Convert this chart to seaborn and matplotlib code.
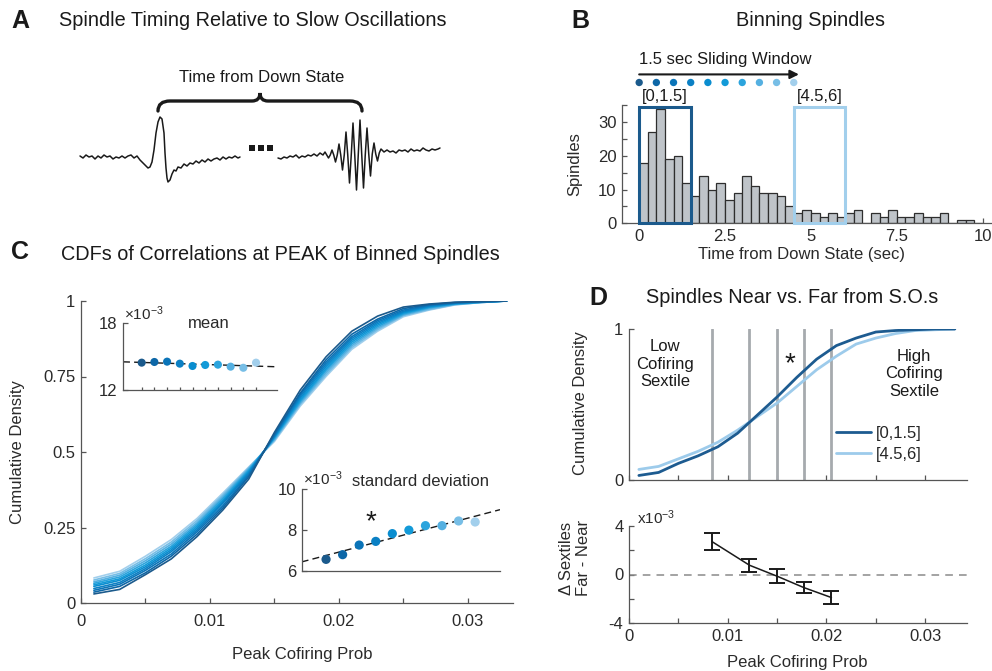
import numpy as np
import pandas as pd
import matplotlib
matplotlib.use("Agg")
import matplotlib.pyplot as plt
import seaborn as sns
from matplotlib.path import Path
from matplotlib.patches import PathPatch, Rectangle
from matplotlib.lines import Line2D

# ---------------- data ----------------
# Panel A : example traces (time, amplitude)
so_t = [80, 83, 86, 89, 92, 95, 98, 101, 104, 107, 110, 113, 116, 119, 122, 125, 128, 131, 134, 137, 140,
        143, 146, 148, 150, 152, 154, 156, 158, 160, 162, 164, 165, 166, 167, 168, 170, 172, 174, 176, 178,
        181, 184, 187, 190, 193, 196, 199, 202, 205, 208, 211, 214, 217, 220, 223, 226, 229, 232, 235, 238, 240]
so_v = [2, 0, 3, 1, 2, -1, 2, 0, 3, 1, 2, -1, 1, 0, 2, 0, 2, 3, 0, 2, -2,
        -5, -8, -10, -9, -4, 8, 25, 36, 41, 39, 25, 5, -10, -20, -24, -22, -16, -12, -13, -9,
        -10, -6, -8, -5, -6, -3, -5, -2, -4, -1, -3, -1, 0, -2, 1, -1, 1, 0, 2, 0, 1]
sp_t = [278, 281, 284, 287, 290, 293, 296, 299, 302, 305, 308, 311, 314, 317, 320, 323,
        325, 326.75, 328.5, 330.25, 332, 333.75, 335.5, 337.25, 339, 340.75, 342.5, 344.25, 346, 347.75,
        349.5, 351.25, 353, 354.75, 356.5, 358.25, 360, 361.75, 363.5, 365.25, 367, 368.75, 370.5, 372.25,
        374, 375.75, 377.5, 379.25, 381,
        384, 387, 390, 393, 396, 399, 402, 405, 408, 411, 414, 417, 420, 423, 426, 429, 432, 435, 438, 440]
sp_v = [0, -1, 1, 0, 2, 1, 3, 0, 2, 1, 3, 2, 4, 2, 5, 3,
        6, 3, 0, 3, 8, 3, -4, 3, 14, 3, -12, 3, 26, 3, -25, 3, 35, 3, -32, 3, 38, 3, -30, 3, 30, 4, -18, 4,
        15, 4, -3, 5, 9,
        6, 8, 6, 7, 5, 8, 7, 8, 6, 9, 7, 8, 7, 10, 8, 7, 9, 8, 9, 10]
ellipsis_x = [252, 261, 270]

# Panel B : spindle counts per 0.25 s bin, 0-10 s
bin_width = 0.25
spindle_counts = [18, 27, 34, 19, 20, 12, 8, 14, 10, 12, 7, 9, 14, 11, 9, 9, 8, 5, 3, 4,
                  3, 2, 3, 2, 3, 4, 0, 3, 2, 4, 2, 2, 3, 2, 2, 3, 0, 1, 1, 0]
window_starts = [0, 0.5, 1.0, 1.5, 2.0, 2.5, 3.0, 3.5, 4.0, 4.5]
window_len = 1.5
window_labels = ["[0,1.5]", "[0.5,2]", "[1,2.5]", "[1.5,3]", "[2,3.5]",
                 "[2.5,4]", "[3,4.5]", "[3.5,5]", "[4,5.5]", "[4.5,6]"]
window_colors = ["#1b5a8c", "#0d67a7", "#0b74b8", "#0b80c4", "#0a8dcf",
                 "#139ad8", "#2ca4dd", "#55b0e1", "#77bee6", "#a2cfec"]

# Panel C : CDFs per window
cofiring_x = [0.001, 0.003, 0.005, 0.007, 0.009, 0.011, 0.013, 0.015, 0.017,
              0.019, 0.021, 0.023, 0.025, 0.027, 0.029, 0.031, 0.033]
cdf_w1 = [0.030, 0.045, 0.094, 0.146, 0.220, 0.308, 0.410, 0.565, 0.705, 0.815, 0.900, 0.950, 0.980, 0.990, 0.996, 0.998, 1.0]
cdf_w2 = [0.036, 0.055, 0.100, 0.155, 0.228, 0.315, 0.418, 0.560, 0.695, 0.805, 0.890, 0.940, 0.975, 0.988, 0.995, 0.998, 1.0]
cdf_w3 = [0.042, 0.062, 0.108, 0.162, 0.236, 0.322, 0.423, 0.556, 0.690, 0.797, 0.882, 0.935, 0.970, 0.986, 0.994, 0.998, 1.0]
cdf_w4 = [0.048, 0.068, 0.114, 0.170, 0.242, 0.330, 0.428, 0.553, 0.684, 0.790, 0.876, 0.930, 0.966, 0.984, 0.993, 0.997, 1.0]
cdf_w5 = [0.055, 0.075, 0.120, 0.176, 0.248, 0.335, 0.432, 0.551, 0.678, 0.783, 0.870, 0.925, 0.963, 0.982, 0.992, 0.997, 1.0]
cdf_w6 = [0.060, 0.080, 0.126, 0.182, 0.254, 0.340, 0.436, 0.549, 0.672, 0.776, 0.864, 0.920, 0.960, 0.980, 0.991, 0.996, 1.0]
cdf_w7 = [0.065, 0.086, 0.133, 0.188, 0.260, 0.346, 0.440, 0.545, 0.667, 0.770, 0.858, 0.915, 0.957, 0.978, 0.990, 0.996, 1.0]
cdf_w8 = [0.070, 0.092, 0.140, 0.195, 0.266, 0.352, 0.444, 0.542, 0.662, 0.763, 0.852, 0.910, 0.954, 0.975, 0.989, 0.995, 1.0]
cdf_w9 = [0.076, 0.098, 0.147, 0.202, 0.273, 0.358, 0.447, 0.539, 0.658, 0.756, 0.846, 0.905, 0.952, 0.972, 0.988, 0.995, 1.0]
cdf_w10 = [0.083, 0.105, 0.155, 0.210, 0.280, 0.364, 0.450, 0.535, 0.652, 0.750, 0.840, 0.900, 0.948, 0.970, 0.987, 0.995, 1.0]
window_index = [1, 2, 3, 4, 5, 6, 7, 8, 9, 10]
window_mean = [14.46, 14.52, 14.55, 14.37, 14.16, 14.25, 14.28, 14.10, 14.00, 14.46]   # x1e-3
window_std = [6.57, 6.80, 7.27, 7.45, 7.83, 8.00, 8.22, 8.22, 8.45, 8.40]            # x1e-3

# Panel D
near_cdf = [0.030, 0.050, 0.110, 0.160, 0.220, 0.310, 0.430, 0.550, 0.680, 0.800, 0.890, 0.940, 0.980, 0.990, 0.995, 1.0, 1.0]
far_cdf = [0.070, 0.090, 0.140, 0.190, 0.250, 0.330, 0.420, 0.510, 0.620, 0.730, 0.820, 0.900, 0.940, 0.970, 0.990, 0.995, 1.0]
sextile_edges = [0.0084, 0.0122, 0.0150, 0.0177, 0.0205]
delta_far_near = [2.70, 0.76, -0.14, -1.07, -1.89]   # x1e-3
delta_err = [0.70, 0.55, 0.58, 0.45, 0.50]
near_color = "#1d5b90"
far_color = "#9dcbeb"

# ---------------- style ----------------
sns.set_theme(style="ticks")
plt.rcParams.update({
    "font.family": ["Liberation Sans", "DejaVu Sans"],
    "mathtext.fontset": "custom",
    "mathtext.rm": "Liberation Sans",
    "mathtext.it": "Liberation Sans:italic",
    "mathtext.default": "regular",
    "xtick.direction": "in", "ytick.direction": "in",
    "axes.edgecolor": "#555555", "axes.linewidth": 0.9,
    "xtick.color": "#555555", "ytick.color": "#555555",
    "xtick.labelcolor": "#2a2a2a", "ytick.labelcolor": "#2a2a2a",
    "xtick.major.size": 3.5, "ytick.major.size": 3.5,
    "xtick.major.width": 0.9, "ytick.major.width": 0.9,
    "xtick.labelsize": 12, "ytick.labelsize": 12,
    "xtick.major.pad": 4.3, "ytick.major.pad": 4,
})

W, H = 992, 671
fig = plt.figure(figsize=(W / 100, H / 100), dpi=100)


def rect(x0, y0, x1, y1):
    return [x0 / W, 1 - y1 / H, (x1 - x0) / W, (y1 - y0) / H]


def ftext(x, y, s, **kw):
    kw.setdefault("ha", "center")
    kw.setdefault("va", "center")
    kw.setdefault("color", "#1a1a1a")
    return fig.text(x / W, 1 - y / H, s, **kw)


TXT = "#2a2a2a"

# panel letters and titles
for lab, (x, y) in {"A": (20, 21), "B": (580, 21), "C": (20, 252), "D": (598, 298)}.items():
    ftext(x, y, lab, fontsize=18, fontweight="bold", color="k")
ftext(253, 21, "Spindle Timing Relative to Slow Oscillations", fontsize=14.3)
ftext(811, 21, "Binning Spindles", fontsize=14.3)
ftext(280, 254, "CDFs of Correlations at PEAK of Binned Spindles", fontsize=14.3)
ftext(792, 297, "Spindles Near vs. Far from S.O.s", fontsize=14.3)

# ---------------- Panel A ----------------
axA = fig.add_axes(rect(60, 60, 460, 200))
sns.lineplot(x=so_t, y=so_v, ax=axA, color="k", lw=1.1, estimator=None, sort=False)
sns.lineplot(x=sp_t, y=sp_v, ax=axA, color="k", lw=1.1, estimator=None, sort=False)
axA.scatter(ellipsis_x, [10] * len(ellipsis_x), marker="s", s=22, color="k", lw=0)
brace_v = [(158, 47), (158, 57), (170, 57), (252, 57), (260, 57), (260, 65),
           (260, 57), (268, 57), (350, 57), (362, 57), (362, 47)]
brace_c = [Path.MOVETO, Path.CURVE3, Path.CURVE3, Path.LINETO, Path.CURVE3, Path.CURVE3,
           Path.CURVE3, Path.CURVE3, Path.LINETO, Path.CURVE3, Path.CURVE3]
axA.add_patch(PathPatch(Path(brace_v, brace_c), fill=False, lw=2.4, ec="k", capstyle="round"))
axA.text(262, 80, "Time from Down State", ha="center", va="center", fontsize=12, color="#1a1a1a")
axA.set_xlim(60, 460)
axA.set_ylim(-42, 98)
axA.axis("off")

# ---------------- Panel B ----------------
axB = fig.add_axes(rect(622, 105.4, 993, 223.3))
centers = np.arange(len(spindle_counts)) * bin_width + bin_width / 2
dfB = pd.DataFrame({"t": centers, "n": spindle_counts})
sns.histplot(data=dfB, x="t", weights="n", binwidth=bin_width, binrange=(0, 10), ax=axB,
             color="#bfc4c9", edgecolor="#2e2e2e", linewidth=0.9, alpha=1)
axB.set_xlim(-0.5, 10.3)
axB.set_ylim(0, 35)
for start, col in [(window_starts[0], window_colors[0]), (window_starts[-1], window_colors[-1])]:
    axB.add_patch(Rectangle((start, 0), window_len, 34.6, fill=False, ec=col, lw=2.2, clip_on=False, zorder=5))
    axB.text(start + window_len / 2, 37.6, f"[{start:g},{start + window_len:g}]", ha="center", va="center",
             fontsize=12, color="#1a1a1a")
axB.annotate("", xy=(4.65, 44.2), xytext=(0, 44.2), annotation_clip=False,
             arrowprops=dict(arrowstyle="-|>", color="k", lw=1.5, mutation_scale=13, shrinkA=0, shrinkB=0))
axB.text(0, 48.5, "1.5 sec Sliding Window", ha="left", va="center", fontsize=12, color="#1a1a1a")
sns.scatterplot(x=window_starts, y=[41.8] * len(window_starts), hue=window_labels, palette=window_colors,
                ax=axB, s=28, legend=False, edgecolor="none", clip_on=False)
axB.set_xticks([0, 2.5, 5, 7.5, 10], ["0", "2.5", "5", "7.5", "10"])
axB.set_yticks([0, 5, 10, 15, 20, 25, 30, 35], ["0", "", "10", "", "20", "", "30", ""])
axB.set_xlabel("")
axB.set_ylabel("")
sns.despine(ax=axB)
ftext(575, 164, "Spindles", fontsize=12, rotation=90, color=TXT)
ftext(802, 255, "Time from Down State (sec)", fontsize=12, color=TXT)

# ---------------- Panel C ----------------
axC = fig.add_axes(rect(81, 301, 513, 603))
curves = [cdf_w1, cdf_w2, cdf_w3, cdf_w4, cdf_w5, cdf_w6, cdf_w7, cdf_w8, cdf_w9, cdf_w10]
dfC = pd.DataFrame({
    "x": np.tile(cofiring_x, len(curves)),
    "cdf": np.concatenate(curves),
    "window": np.repeat(window_labels, len(cofiring_x)),
})
sns.lineplot(data=dfC, x="x", y="cdf", hue="window", hue_order=window_labels[::-1],
             palette=dict(zip(window_labels, window_colors)), ax=axC, lw=1.2, legend=False)
axC.set_xlim(0, 0.0335)
axC.set_ylim(0, 1)
axC.set_xticks(np.arange(0, 0.0301, 0.005), ["0", "", "0.01", "", "0.02", "", "0.03"])
axC.set_yticks([0, 0.25, 0.5, 0.75, 1], ["0", "0.25", "0.5", "0.75", "1"])
axC.tick_params(axis="x", pad=7.7)
axC.set_xlabel("")
axC.set_ylabel("")
sns.despine(ax=axC)
ftext(18, 452, "Cumulative Density", fontsize=12, rotation=90, color=TXT)
ftext(302, 655, "Peak Cofiring Prob", fontsize=12, color=TXT)

# inset: mean
axM = fig.add_axes(rect(123, 323.3, 277, 390))
axM.set_xlim(-0.47, 11.65)
axM.set_ylim(12, 18)
sns.regplot(x=window_index, y=window_mean, ax=axM, scatter=False, ci=None, truncate=False, color="k",
            line_kws=dict(ls=(0, (5, 3)), lw=1.0))
sns.scatterplot(x=window_index, y=window_mean, hue=window_labels, palette=window_colors, ax=axM,
                s=34, legend=False, edgecolor="none", zorder=3)
axM.set_xlim(-0.47, 11.65)
axM.set_ylim(12, 18)
axM.set_xticks(window_index, [""] * 10)
axM.tick_params(axis="x", length=2.5)
axM.set_yticks([12, 18], ["12", "18"])
axM.set_xlabel("")
axM.set_ylabel("")
axM.patch.set_alpha(0)
sns.despine(ax=axM)
ftext(124, 314, r"$\times10^{-3}$", fontsize=11, ha="left", color=TXT)
ftext(209, 323, "mean", fontsize=12, color=TXT)

# inset: standard deviation
axS = fig.add_axes(rect(301.7, 489.3, 500, 571))
axS.set_xlim(-0.47, 11.5)
axS.set_ylim(6, 10)
sns.regplot(x=window_index, y=window_std, ax=axS, scatter=False, ci=None, truncate=False, color="k",
            line_kws=dict(ls=(0, (5, 3)), lw=1.0))
sns.scatterplot(x=window_index, y=window_std, hue=window_labels, palette=window_colors, ax=axS,
                s=44, legend=False, edgecolor="none", zorder=3)
axS.set_xlim(-0.47, 11.5)
axS.set_ylim(6, 10)
axS.set_xticks([])
axS.set_yticks([6, 8, 10], ["6", "8", "10"])
axS.set_xlabel("")
axS.set_ylabel("")
axS.patch.set_alpha(0)
sns.despine(ax=axS)
ftext(303, 479, r"$\times10^{-3}$", fontsize=11, ha="left", color=TXT)
ftext(421, 482, "standard deviation", fontsize=12, color=TXT)
ftext(371, 522, "*", fontsize=20, color="k")

# ---------------- Panel D top ----------------
axD1 = fig.add_axes(rect(629, 329, 966.7, 480))
for e in sextile_edges:
    axD1.axvline(e, color="#a6aaae", lw=2, zorder=1)
dfD = pd.DataFrame({
    "x": np.tile(cofiring_x, 2),
    "cdf": np.concatenate([near_cdf, far_cdf]),
    "group": np.repeat([window_labels[0], window_labels[-1]], len(cofiring_x)),
})
sns.lineplot(data=dfD, x="x", y="cdf", hue="group", hue_order=[window_labels[-1], window_labels[0]],
             palette={window_labels[0]: near_color, window_labels[-1]: far_color}, ax=axD1, lw=2,
             legend=False, zorder=3)
axD1.set_xlim(0, 0.0342)
axD1.set_ylim(0, 1)
axD1.set_xticks(np.arange(0, 0.0301, 0.005), [""] * 7)
axD1.set_yticks([0, 1], ["0", "1"])
axD1.set_xlabel("")
axD1.set_ylabel("")
sns.despine(ax=axD1)
handles = [Line2D([], [], color=near_color, lw=2), Line2D([], [], color=far_color, lw=2)]
axD1.legend(handles, [window_labels[0], window_labels[-1]], loc="upper left", frameon=False,
            bbox_to_anchor=(836 / W, 1 - 426 / H), bbox_transform=fig.transFigure, fontsize=12,
            handlelength=2.1, handletextpad=0.3, labelspacing=0.35, borderaxespad=0, borderpad=0)
ftext(665, 364, "Low\nCofiring\nSextile", fontsize=12, linespacing=1.2)
ftext(914, 374, "High\nCofiring\nSextile", fontsize=12, linespacing=1.2)
ftext(790, 364, "*", fontsize=20, color="k")
ftext(580, 403, "Cumulative Density", fontsize=12, rotation=90, color=TXT)

# ---------------- Panel D bottom ----------------
axD2 = fig.add_axes(rect(629, 525.7, 966.7, 623.3))
axD2.axhline(0, color="#8a8a8a", ls=(0, (5, 4)), lw=1.1, zorder=1)
sns.lineplot(x=sextile_edges, y=delta_far_near, ax=axD2, color="k", lw=1.1, estimator=None)
axD2.errorbar(sextile_edges, delta_far_near, yerr=delta_err, fmt="none", ecolor="k",
              elinewidth=1.4, capsize=6, capthick=1.4)
axD2.set_xlim(0, 0.0342)
axD2.set_ylim(-4, 4)
axD2.set_xticks(np.arange(0, 0.0301, 0.005), ["0", "", "0.01", "", "0.02", "", "0.03"])
axD2.set_yticks([-4, -2, 0, 2, 4], ["-4", "", "0", "", "4"])
axD2.tick_params(axis="x", pad=3.8)
axD2.set_xlabel("")
axD2.set_ylabel("")
sns.despine(ax=axD2)
ftext(637, 518, r"x10$^{-3}$", fontsize=11, ha="left", color=TXT)
ftext(575, 558, "Δ Sextiles\nFar - Near", fontsize=12, rotation=90, linespacing=1.15, color=TXT)
ftext(797, 663, "Peak Cofiring Prob", fontsize=12, color=TXT)

fig.savefig("out.png", dpi=100)
